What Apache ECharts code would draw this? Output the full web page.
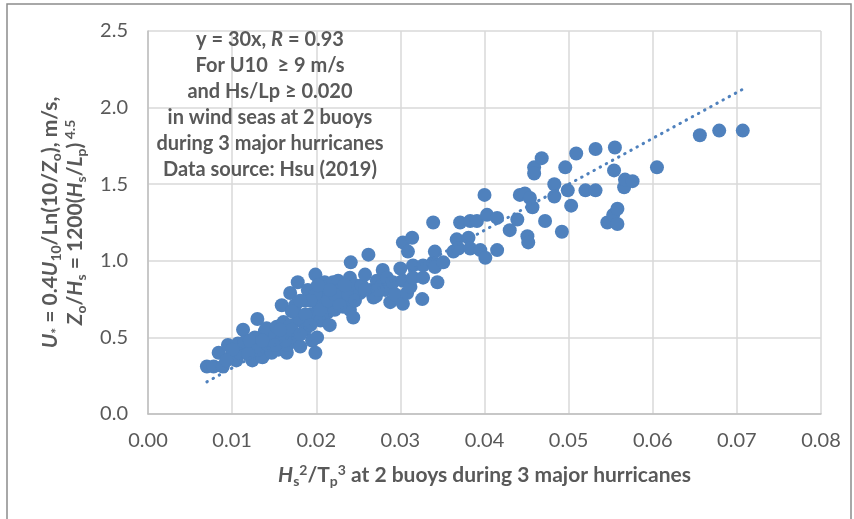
<!DOCTYPE html>
<html>
<head>
<meta charset="utf-8">
<script src="https://cdn.jsdelivr.net/npm/echarts@6.0.0/dist/echarts.min.js"></script>
<style>
html,body{margin:0;padding:0;background:#ffffff;}
#chart{width:854px;height:519px;}
</style>
</head>
<body>
<div id="chart"></div>
<script>
// ---- data ----
const xTickLabels = ['0.00','0.01','0.02','0.03','0.04','0.05','0.06','0.07','0.08'];
const yTickLabels = ['0.0','0.5','1.0','1.5','2.0','2.5'];

// Hs^2/Tp^3
const hs2Tp3 = [
  0.0070,0.0078,0.0084,0.0089,0.0095,0.0098,0.0105,0.0109,0.0113,0.0107,
  0.0115,0.0121,0.0124,0.0127,0.0130,0.0133,0.0136,0.0139,0.0141,0.0145,
  0.0147,0.0151,0.0153,0.0155,0.0157,0.0159,0.0161,0.0163,0.0165,0.0166,
  0.0169,0.0169,0.0175,0.0175,0.0177,0.0178,0.0181,0.0181,0.0187,0.0187,
  0.0190,0.0193,0.0195,0.0199,0.0199,0.0201,0.0202,0.0205,0.0207,0.0208,
  0.0210,0.0213,0.0213,0.0216,0.0220,0.0220,0.0222,0.0226,0.0228,0.0232,
  0.0234,0.0238,0.0240,0.0240,0.0241,0.0244,0.0246,0.0252,0.0254,0.0258,
  0.0262,0.0264,0.0268,0.0271,0.0272,0.0276,0.0279,0.0282,0.0284,0.0288,
  0.0291,
  0.0121,0.0131,0.0143,0.0151,0.0163,0.0171,0.0181,0.0187,0.0193,0.0199,
  0.0205,0.0214,0.0222,0.0228,0.0234,0.0171,0.0157,0.0136,0.0119,0.0100,
  0.0093,0.0216,0.0202,0.0246,0.0258,0.0273,0.0294,0.0193,0.0181,
  0.0300,0.0303,0.0303,0.0303,0.0308,0.0309,0.0312,0.0314,0.0315,0.0315,
  0.0326,0.0327,0.0327,0.0339,0.0339,0.0341,0.0341,0.0344,0.0351,0.0363,
  0.0367,0.0369,0.0371,0.0381,0.0383,0.0383,0.0391,0.0395,0.0400,0.0401,
  0.0403,0.0415,0.0415,
  0.0430,0.0439,0.0442,0.0448,0.0451,0.0452,0.0454,0.0457,0.0459,0.0459,
  0.0468,0.0472,0.0483,0.0483,0.0492,0.0496,0.0499,0.0503,0.0509,0.0520,
  0.0532,0.0532,0.0546,0.0553,0.0554,0.0555,0.0558,0.0558,0.0566,0.0567,
  0.0576,0.0605,0.0656,0.0679,0.0707
];
// U* (m/s)
const uStar = [
  0.31,0.31,0.40,0.31,0.45,0.37,0.35,0.40,0.55,0.46,
  0.47,0.40,0.35,0.50,0.62,0.44,0.37,0.54,0.56,0.47,
  0.40,0.51,0.57,0.42,0.47,0.71,0.60,0.54,0.40,0.45,
  0.79,0.58,0.71,0.50,0.65,0.86,0.61,0.44,0.74,0.55,
  0.81,0.65,0.48,0.91,0.40,0.50,0.71,0.61,0.81,0.74,
  0.86,0.83,0.66,0.58,0.86,0.78,0.68,0.87,0.81,0.70,
  0.74,0.78,0.89,0.68,0.99,0.63,0.84,0.79,0.84,0.91,
  1.04,0.81,0.76,0.77,0.87,0.83,0.94,0.81,0.89,0.73,
  0.86,
  0.48,0.42,0.45,0.45,0.48,0.55,0.52,0.65,0.58,0.78,
  0.68,0.74,0.78,0.71,0.84,0.67,0.55,0.48,0.39,0.42,
  0.35,0.81,0.84,0.74,0.81,0.81,0.78,0.74,0.74,
  0.95,1.12,0.87,0.72,0.79,1.06,0.83,1.15,0.97,0.89,
  0.75,0.97,0.89,1.25,0.99,1.06,0.96,0.86,0.99,1.06,
  1.14,1.08,1.25,1.15,1.26,1.08,1.26,1.07,1.43,1.02,
  1.30,1.28,1.07,
  1.20,1.27,1.43,1.44,1.16,1.12,1.41,1.35,1.61,1.57,
  1.67,1.26,1.50,1.42,1.19,1.61,1.46,1.36,1.70,1.46,
  1.73,1.46,1.25,1.30,1.59,1.74,1.34,1.24,1.48,1.53,
  1.52,1.61,1.82,1.85,1.85
];
// linear trend y = 30x, drawn over the data range
const trendX = [0.0070, 0.0707];
const trendY = [0.21, 2.12];

// ---- chart ----
const FONT = 'Lato';
const TXT = '#595959';
const BLUE = '#4F81BD';

const scatterData = hs2Tp3.map((x, i) => [x, uStar[i]]);
const trendData = trendX.map((x, i) => [x, trendY[i]]);

const nameRich = {
  b:   {fontFamily: FONT, fontWeight: 'bold', fontSize: 21, color: TXT, lineHeight: 25, align: 'center'},
  bi:  {fontFamily: FONT, fontWeight: 'bold', fontStyle: 'italic', fontSize: 21, color: TXT, lineHeight: 25, align: 'center'},
  sub: {fontFamily: FONT, fontWeight: 'bold', fontSize: 14, color: TXT, lineHeight: 11, verticalAlign: 'bottom', align: 'center'},
  sup: {fontFamily: FONT, fontWeight: 'bold', fontSize: 14, color: TXT, lineHeight: 14, verticalAlign: 'top', align: 'center'}
};

const chart = echarts.init(document.getElementById('chart'), null, {renderer: 'canvas'});
chart.setOption({
  animation: false,
  backgroundColor: '#ffffff',
  grid: {left: 148, right: 33, top: 31, bottom: 105, containLabel: false},
  xAxis: {
    type: 'value', min: 0, max: 0.08, interval: 0.01,
    axisLine: {show: true, lineStyle: {color: '#BFBFBF', width: 1.5}},
    axisTick: {show: false},
    splitLine: {show: true, lineStyle: {color: '#D9D9D9', width: 1.5}},
    axisLabel: {
      fontFamily: FONT, fontSize: 20, color: TXT, margin: 17,
      formatter: (v) => xTickLabels[Math.round(v * 100)]
    },
    name: '{bi|H}{sub|s}{sup|2}{b|/T}{sub|p}{sup|3}{b| at 2 buoys during 3 major hurricanes}',
    nameLocation: 'middle', nameGap: 49,
    nameTextStyle: {rich: nameRich, align: 'center'}
  },
  yAxis: {
    type: 'value', min: 0, max: 2.5, interval: 0.5,
    axisLine: {show: true, lineStyle: {color: '#BFBFBF', width: 1.5}},
    axisTick: {show: false},
    splitLine: {show: true, lineStyle: {color: '#D9D9D9', width: 1.5}},
    axisLabel: {
      fontFamily: FONT, fontSize: 20, color: TXT, margin: 20,
      formatter: (v) => yTickLabels[Math.round(v * 2)]
    },
    name: '{bi|U}{sub|*}{b| = 0.4}{bi|U}{sub|10}{b|/Ln(10/}{bi|Z}{sub|o}{b|), m/s,}\n' +
          '{bi|Z}{sub|o}{b|/}{bi|H}{sub|s}{b| = 1200(}{bi|H}{sub|s}{b|/}{bi|L}{sub|p}{b|)}{sup| 4.5}',
    nameLocation: 'middle', nameRotate: 90, nameGap: 60,
    nameTextStyle: {rich: nameRich, align: 'center'}
  },
  graphic: [
    {
      type: 'rect', silent: true, z: -1,
      shape: {x: 7, y: 4, width: 844, height: 530},
      style: {fill: 'none', stroke: '#8C8C8C', lineWidth: 1.5}
    },
    {
      type: 'text', silent: true, z: 100,
      x: 270, y: 27,
      style: {
        text: '{a|y = 30x, }{ai|R}{a| = 0.93}\n{a|For U10  \u2265 9 m/s}\n{a|and Hs/Lp \u2265 0.020}\n{a|in wind seas at 2 buoys}\n{a|during 3 major hurricanes}\n{a|Data source: Hsu (2019)}',
        align: 'center', verticalAlign: 'top',
        rich: {
          a:  {fontFamily: FONT, fontWeight: 'bold', fontSize: 20, fill: TXT, lineHeight: 26, align: 'center'},
          ai: {fontFamily: FONT, fontWeight: 'bold', fontStyle: 'italic', fontSize: 20, fill: TXT, lineHeight: 26, align: 'center'}
        }
      }
    }
  ],
  series: [
    {
      type: 'scatter', data: scatterData, symbol: 'circle', symbolSize: 14,
      itemStyle: {color: BLUE, opacity: 1}, z: 2
    },
    {
      type: 'line', data: trendData, showSymbol: false, symbol: 'none', z: 3,
      lineStyle: {color: BLUE, width: 3, type: [0.5, 6.5], cap: 'round'}
    }
  ]
});
</script>
</body>
</html>
